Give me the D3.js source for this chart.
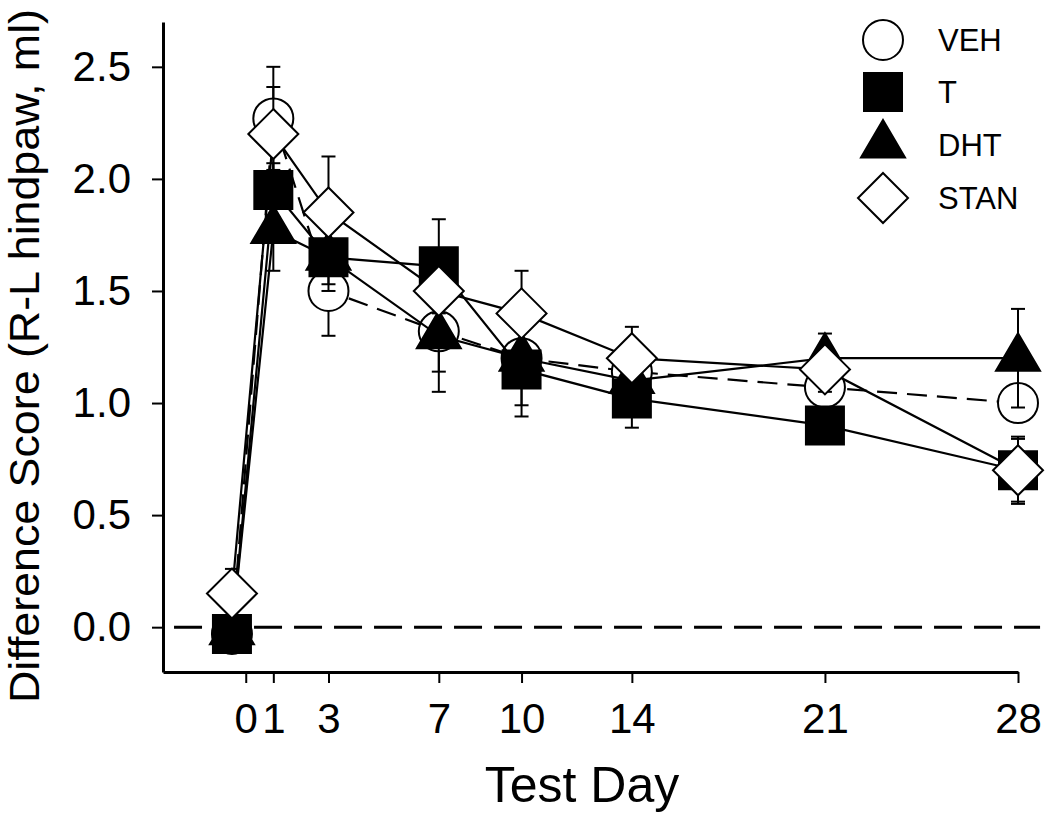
<!DOCTYPE html>
<html>
<head>
<meta charset="utf-8">
<script src="https://cdn.jsdelivr.net/npm/d3@7"></script>
<style>
  html, body { margin: 0; padding: 0; background: #fff; }
  svg { display: block; }
  text { font-family: "Liberation Sans", Arial, sans-serif; fill: #000; }
</style>
</head>
<body>
<svg id="chart" width="1050" height="817"></svg>
<script>
// ---- data ----
const days = [-0.5, 1, 3, 7, 10, 14, 21, 28];
const xTickValues = [0, 1, 3, 7, 10, 14, 21, 28];
const yTickValues = [0, 0.5, 1.0, 1.5, 2.0, 2.5];

const vehValues  = [-0.03, 2.27, 1.50, 1.32, 1.20, 1.14, 1.07, 1.00];
const vehErrors  = [0.03, 0.23, 0.20, 0.27, 0.21, 0.10, 0.08, 0.08];
const tValues    = [-0.03, 1.95, 1.65, 1.61, 1.15, 1.02, 0.90, 0.70];
const tErrors    = [0.04, 0.12, 0.15, 0.21, 0.21, 0.13, 0.08, 0.15];
const dhtValues  = [-0.02, 1.77, 1.65, 1.30, 1.20, 1.10, 1.20, 1.20];
const dhtErrors  = [0.04, 0.18, 0.12, 0.16, 0.12, 0.10, 0.11, 0.22];
const stanValues = [0.15, 2.20, 1.85, 1.50, 1.40, 1.20, 1.15, 0.70];
const stanErrors = [0.11, 0.21, 0.25, 0.15, 0.19, 0.14, 0.10, 0.14];

const seriesNames = ["VEH", "T", "DHT", "STAN"];
const seriesShapes = ["circle", "square", "triangle", "diamond"];
const seriesFill = ["#fff", "#000", "#000", "#fff"];
const seriesDashed = [true, false, false, false];

const series = [
  {name: seriesNames[0], values: vehValues, errors: vehErrors},
  {name: seriesNames[1], values: tValues, errors: tErrors},
  {name: seriesNames[2], values: dhtValues, errors: dhtErrors},
  {name: seriesNames[3], values: stanValues, errors: stanErrors}
].map((s, i) => ({...s, shape: seriesShapes[i], fill: seriesFill[i], dashed: seriesDashed[i]}));

// ---- layout ----
const svg = d3.select("#chart");
const x = d3.scaleLinear().domain([-3, 28]).range([163, 1018]);
const y = d3.scaleLinear().domain([-0.2, 2.7]).range([672, 22]);

const markerPaths = {
  circle: "M20,0A20,20,0,1,1,-20,0A20,20,0,1,1,20,0Z",
  square: "M-19,-19H19V19H-19Z",
  triangle: "M0,-25L22,12.5L-22,12.5Z",
  diamond: "M0,-25L25,0L0,25L-25,0Z"
};

// zero reference line
svg.append("line")
  .attr("x1", x(-2.6)).attr("x2", x(28.8))
  .attr("y1", y(0)).attr("y2", y(0))
  .attr("stroke", "#000").attr("stroke-width", 3)
  .attr("stroke-dasharray", "28,12");

// axes
const yAxis = d3.axisLeft(y).tickValues(yTickValues).tickFormat(d3.format(".1f"))
  .tickSizeInner(11).tickSizeOuter(0).tickPadding(21);
const xAxis = d3.axisBottom(x).tickValues(xTickValues).tickFormat(d3.format("d"))
  .tickSizeInner(11).tickSizeOuter(0).tickPadding(20);

const gy = svg.append("g").attr("transform", `translate(${x.range()[0]},0)`).call(yAxis);
const gx = svg.append("g").attr("transform", `translate(0,${y.range()[0]})`).call(xAxis);
[gx, gy].forEach(g => {
  g.select(".domain").attr("stroke", "#000").attr("stroke-width", 3);
  g.selectAll(".tick line").attr("stroke", "#000").attr("stroke-width", 2);
  g.selectAll(".tick text").attr("font-size", 42).attr("font-family", "Liberation Sans, Arial, sans-serif").attr("fill", "#000");
});

// axis titles
svg.append("text")
  .attr("transform", "translate(39,356) rotate(-90)")
  .attr("text-anchor", "middle")
  .attr("font-size", 43)
  .attr("textLength", 694)
  .attr("lengthAdjust", "spacingAndGlyphs")
  .text("Difference Score (R-L hindpaw, ml)");
svg.append("text")
  .attr("x", 582).attr("y", 802)
  .attr("text-anchor", "middle")
  .attr("font-size", 50)
  .text("Test Day");

// series
const line = d3.line().x(d => x(d.day)).y(d => y(d.v));
series.forEach(s => {
  const pts = days.map((d, i) => ({day: d, v: s.values[i], e: s.errors[i]}));
  const g = svg.append("g");
  // error bars
  pts.forEach(p => {
    const cx = x(p.day);
    g.append("line").attr("x1", cx).attr("x2", cx)
      .attr("y1", y(p.v - p.e)).attr("y2", y(p.v + p.e))
      .attr("stroke", "#000").attr("stroke-width", 2);
    [p.v - p.e, p.v + p.e].forEach(v => {
      g.append("line").attr("x1", cx - 7).attr("x2", cx + 7)
        .attr("y1", y(v)).attr("y2", y(v))
        .attr("stroke", "#000").attr("stroke-width", 2);
    });
  });
  // line
  g.append("path").datum(pts).attr("d", line)
    .attr("fill", "none").attr("stroke", "#000").attr("stroke-width", 2.2)
    .attr("stroke-dasharray", s.dashed ? "20,10" : null);
  // markers
  g.selectAll("path.m").data(pts).join("path").attr("class", "m")
    .attr("transform", p => `translate(${x(p.day)},${y(p.v)})`)
    .attr("d", markerPaths[s.shape])
    .attr("fill", s.fill).attr("stroke", "#000").attr("stroke-width", 2);
});

// legend
const legendY = [40, 92, 145, 198];
const legend = svg.append("g");
series.forEach((s, i) => {
  legend.append("path")
    .attr("transform", `translate(883,${legendY[i]})`)
    .attr("d", markerPaths[s.shape])
    .attr("fill", s.fill).attr("stroke", "#000").attr("stroke-width", 2);
  legend.append("text")
    .attr("x", 938).attr("y", legendY[i])
    .attr("dy", "0.36em")
    .attr("font-size", 31)
    .text(s.name);
});
</script>
</body>
</html>
